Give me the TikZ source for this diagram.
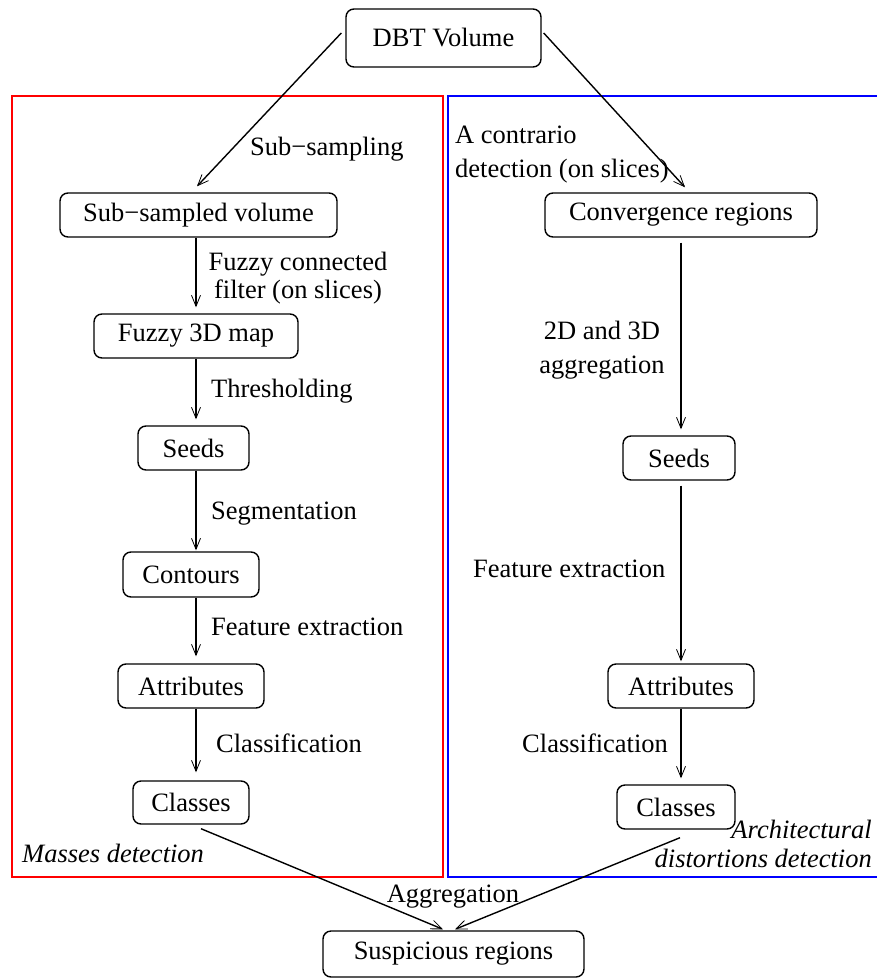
\documentclass[tikz,border=0pt]{standalone}
\usepackage{fontspec}
\setmainfont{Liberation Serif}
\usetikzlibrary{arrows.meta,calc}
\newcommand{\fs}{\fontsize{26.5}{31}\selectfont}
\begin{document}
\begin{tikzpicture}[x=1pt,y=-1pt,
  box/.style={draw,rounded corners=8pt,line width=1.4pt,inner sep=0pt,font=\fs},
  arr/.style={line width=1.4pt,-{Straight Barb[length=11pt,width=9pt,line width=0.8pt]}},
  lbl/.style={inner sep=0pt,font=\fs},
  frame/.style={line width=1.3pt}]
\useasboundingbox (0,0) rectangle (876,979);
% frames
\draw[frame,red] (12,96) rectangle (443,877);
\draw[frame,blue] (448,96) rectangle (878,877);
% boxes
\node[box,minimum width=195pt,minimum height=58pt] (dbt) at (443.5,38) {DBT Volume};
\node[box,minimum width=277pt,minimum height=44pt] (sub) at (198.5,215) {Sub−sampled volume};
\node[box,minimum width=272pt,minimum height=44pt] (conv) at (681,215) {Convergence regions};
\node[box,minimum width=204pt,minimum height=44pt] (fuzzy) at (196,336) {Fuzzy 3D map};
\node[box,minimum width=111pt,minimum height=44pt] (seedsL) at (193.5,448) {Seeds};
\node[box,minimum width=136pt,minimum height=45pt] (contours) at (191,574.5) {Contours};
\node[box,minimum width=146pt,minimum height=44pt] (attrL) at (191,686) {Attributes};
\node[box,minimum width=116pt,minimum height=43pt] (classesL) at (191,802.5) {Classes};
\node[box,minimum width=112pt,minimum height=44pt] (seedsR) at (679,458) {Seeds};
\node[box,minimum width=146pt,minimum height=44pt] (attrR) at (681,686) {Attributes};
\node[box,minimum width=118pt,minimum height=44pt] (classesR) at (676,807) {Classes};
\node[box,minimum width=261pt,minimum height=46pt] (susp) at (453.5,954) {Suspicious regions};
% labels (multi-line nodes: base = last line)
\node[lbl,anchor=base west] (lsub) at (250,155) {Sub−sampling};
\node[lbl,anchor=base west,align=left] (lcontr) at (455,177) {A contrario\\[3pt]detection (on slices)};
\node[lbl,anchor=base,align=center] (lfuzzy) at (298,298) {Fuzzy connected\\[-3pt]filter (on slices)};
\node[lbl,anchor=base west] (lthr) at (211,397) {Thresholding};
\node[lbl,anchor=base west] (lseg) at (211,519) {Segmentation};
\node[lbl,anchor=base west] (lfeatL) at (211,635) {Feature extraction};
\node[lbl,anchor=base west] (lclassL) at (216,752) {Classification};
\node[lbl,anchor=base,align=center] (lagg2) at (602,373) {2D and 3D\\[3pt]aggregation};
\node[lbl,anchor=base west] (lfeatR) at (473,577) {Feature extraction};
\node[lbl,anchor=base west] (lclassR) at (522,752) {Classification};
\node[lbl,anchor=base] (lagg) at (453,902) {Aggregation};
\node[lbl,anchor=base west,font=\fs\itshape] (lmass) at (22,862) {Masses detection};
\node[lbl,anchor=base east,align=right,font=\fs\itshape] (larch) at (872,867) {Architectural\\[-2pt]distortions detection};
% connectors
\draw[arr] ($(dbt.west)+(-4,-5)$) -- ($(sub.north)+(-1.5,-6)$);
\draw[arr] ($(dbt.east)+(2,-5)$) -- ($(conv.north)+(4,-5)$);
\draw[arr] (fuzzy.north |- sub.south) -- ($(fuzzy.north)+(0,-6)$);
\draw[arr] (fuzzy.south) -- ($(fuzzy.south |- seedsL.north)+(0,-6)$);
\draw[arr] (fuzzy.south |- seedsL.south) -- ($(fuzzy.south |- contours.north)+(0,-1)$);
\draw[arr] (fuzzy.south |- contours.south) -- ($(fuzzy.south |- attrL.north)+(0,-7)$);
\draw[arr] (fuzzy.south |- attrL.south) -- ($(fuzzy.south |- classesL.north)+(0,-8)$);
\draw[arr] ($(conv.south)+(0,5)$) -- ($(conv.south |- seedsR.north)+(0,-6)$);
\draw[arr] ($(conv.south |- seedsR.south)+(0,5)$) -- ($(attrR.north)+(0,-2)$);
\draw[arr] (attrR.south) -- ($(attrR.south |- classesR.north)+(0,-6)$);
\draw[arr] ($(classesL.south)+(10,4)$) -- ($(susp.north)+(-10.5,-1)$);
\draw[arr] ($(classesR.south)+(4,8)$) -- ($(susp.north)+(1.5,-1)$);
\end{tikzpicture}
\end{document}
